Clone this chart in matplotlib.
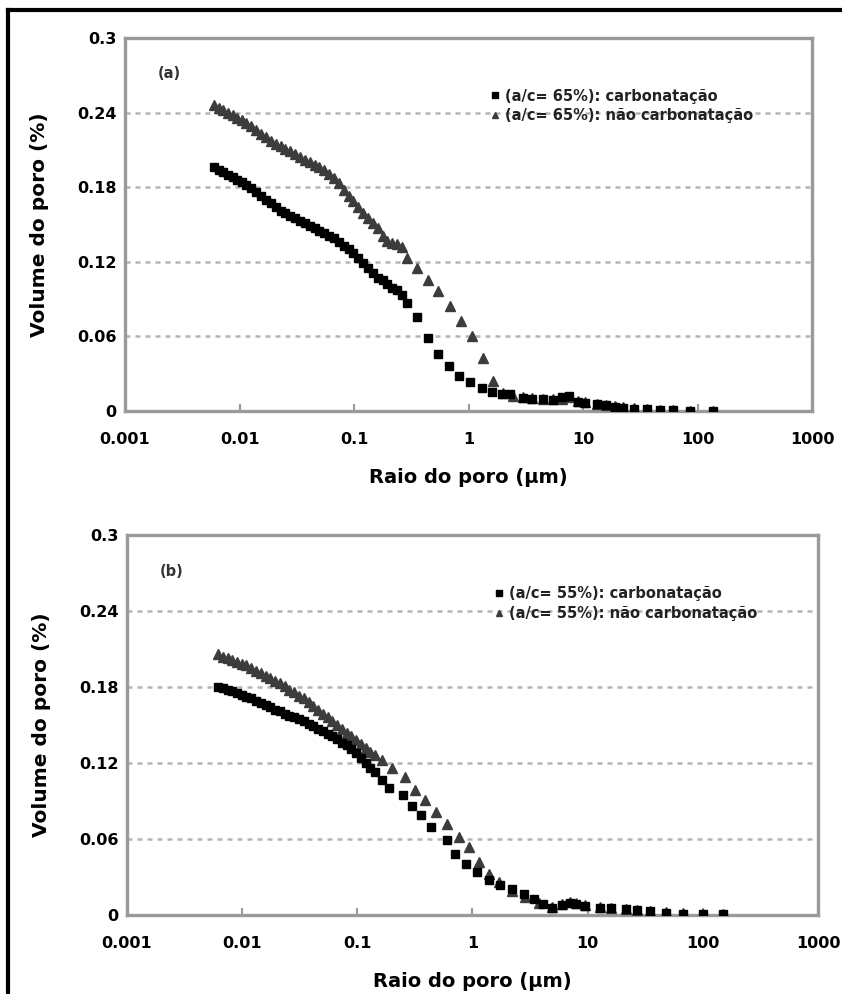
import matplotlib
matplotlib.use("Agg")
import matplotlib.pyplot as plt
from matplotlib.lines import Line2D

plt.rcParams["font.family"] = ["DejaVu Sans"]
plt.rcParams["font.weight"] = "bold"

# ---- panel (a): a/c = 65 % ----
a_carb_r = [0.0060, 0.0066, 0.0072, 0.0079, 0.0087, 0.0095, 0.0105, 0.0115, 0.0127, 0.0140,
            0.0155, 0.0170, 0.0188, 0.0207, 0.0228, 0.0252, 0.0278, 0.0306, 0.0338, 0.0372,
            0.0410, 0.0452, 0.0499, 0.0550, 0.0606, 0.0668, 0.0737, 0.0812, 0.0895, 0.0987,
            0.109, 0.120, 0.132, 0.146, 0.161, 0.178, 0.196, 0.216, 0.238, 0.262,
            0.290, 0.355, 0.445, 0.54, 0.676, 0.826, 1.03, 1.31, 1.60, 1.95,
            2.29, 2.99, 3.6, 4.47, 5.5, 6.5, 7.5, 9.0, 10.5, 13.2,
            16, 19, 22.3, 28, 36, 47, 61, 86, 136]
a_carb_v = [0.196, 0.194, 0.192, 0.190, 0.188, 0.186, 0.184, 0.182, 0.179, 0.176,
            0.173, 0.170, 0.167, 0.164, 0.161, 0.159, 0.157, 0.155, 0.153, 0.151,
            0.149, 0.147, 0.145, 0.143, 0.141, 0.139, 0.136, 0.133, 0.130, 0.127,
            0.123, 0.119, 0.115, 0.111, 0.107, 0.105, 0.102, 0.099, 0.097, 0.093,
            0.087, 0.0757, 0.059, 0.046, 0.036, 0.028, 0.023, 0.0185, 0.0153, 0.014,
            0.0135, 0.0105, 0.010, 0.0095, 0.009, 0.011, 0.012, 0.0075, 0.0068, 0.0056,
            0.0045, 0.0035, 0.0026, 0.002, 0.0016, 0.001, 0.0005, 0.0002, 0.0001]

a_ncarb_r = [0.0060, 0.0066, 0.0072, 0.0079, 0.0087, 0.0095, 0.0105, 0.0115, 0.0127, 0.0140,
             0.0155, 0.0170, 0.0188, 0.0207, 0.0228, 0.0252, 0.0278, 0.0306, 0.0338, 0.0372,
             0.0410, 0.0452, 0.0499, 0.0550, 0.0606, 0.0668, 0.0737, 0.0812, 0.0895, 0.0987,
             0.109, 0.120, 0.132, 0.146, 0.161, 0.178, 0.196, 0.216, 0.238, 0.262,
             0.290, 0.357, 0.445, 0.54, 0.69, 0.853, 1.07, 1.35, 1.62, 2.0,
             2.45, 3.0, 3.6, 4.5, 5.5, 6.5, 7.7, 9.0, 10.5, 13.2,
             16, 19, 22.3, 28, 36, 47, 61, 86, 136]
a_ncarb_v = [0.246, 0.244, 0.242, 0.240, 0.238, 0.236, 0.234, 0.232, 0.229, 0.226,
             0.223, 0.220, 0.217, 0.215, 0.213, 0.211, 0.209, 0.207, 0.204, 0.202,
             0.200, 0.198, 0.196, 0.194, 0.191, 0.187, 0.183, 0.178, 0.173, 0.169,
             0.164, 0.159, 0.155, 0.151, 0.147, 0.141, 0.137, 0.135, 0.134, 0.132,
             0.123, 0.115, 0.105, 0.0966, 0.0846, 0.0725, 0.0604, 0.043, 0.0242, 0.0148,
             0.012, 0.0112, 0.0105, 0.010, 0.0095, 0.010, 0.011, 0.008, 0.0072, 0.006,
             0.005, 0.004, 0.003, 0.0022, 0.0017, 0.0012, 0.0006, 0.0003, 0.0002]

# ---- panel (b): a/c = 55 % ----
b_carb_r = [0.0062, 0.0068, 0.0075, 0.0082, 0.0090, 0.0099, 0.0109, 0.0120, 0.0132, 0.0145,
            0.0160, 0.0176, 0.0193, 0.0213, 0.0234, 0.0257, 0.0283, 0.0311, 0.0343, 0.0377,
            0.0415, 0.0456, 0.0502, 0.0552, 0.0607, 0.0668, 0.0735, 0.0808, 0.0889, 0.0978,
            0.108, 0.118, 0.130, 0.142, 0.163, 0.19, 0.25, 0.30, 0.36, 0.44,
            0.60, 0.71, 0.87, 1.1, 1.38, 1.74, 2.21, 2.81, 3.4, 4.07,
            4.9, 6.0, 7.0, 7.9, 9.5, 12.7, 16, 21.5, 27, 35,
            48, 67, 100, 150]
b_carb_v = [0.180, 0.179, 0.178, 0.177, 0.175, 0.174, 0.172, 0.171, 0.169, 0.167,
            0.166, 0.164, 0.162, 0.161, 0.159, 0.157, 0.156, 0.155, 0.153, 0.151,
            0.149, 0.147, 0.145, 0.143, 0.141, 0.139, 0.136, 0.134, 0.131, 0.128,
            0.124, 0.120, 0.116, 0.113, 0.1065, 0.0999, 0.0946, 0.0859, 0.0787, 0.0694,
            0.0588, 0.0482, 0.0403, 0.0336, 0.0276, 0.0238, 0.0204, 0.0164, 0.0125, 0.0085,
            0.0058, 0.0075, 0.0095, 0.0087, 0.0072, 0.0058, 0.0052, 0.0048, 0.004, 0.0032,
            0.0018, 0.001, 0.0005, 0.0005]

b_ncarb_r = [0.0062, 0.0068, 0.0075, 0.0082, 0.0090, 0.0099, 0.0109, 0.0120, 0.0132, 0.0145,
             0.0160, 0.0176, 0.0193, 0.0213, 0.0234, 0.0257, 0.0283, 0.0311, 0.0343, 0.0377,
             0.0415, 0.0456, 0.0502, 0.0552, 0.0607, 0.0668, 0.0735, 0.0808, 0.0889, 0.0978,
             0.108, 0.118, 0.130, 0.142, 0.163, 0.20, 0.26, 0.32, 0.39, 0.48,
             0.60, 0.76, 0.93, 1.13, 1.38, 1.70, 2.2, 2.87, 3.8, 4.9,
             6.0, 7.0, 7.9, 9.5, 12.7, 16, 21.5, 27, 35, 48,
             67, 100, 150]
b_ncarb_v = [0.206, 0.204, 0.203, 0.201, 0.200, 0.198, 0.197, 0.195, 0.193, 0.191,
             0.189, 0.187, 0.185, 0.183, 0.181, 0.178, 0.176, 0.173, 0.171, 0.168,
             0.165, 0.162, 0.159, 0.156, 0.153, 0.150, 0.147, 0.144, 0.141, 0.138,
             0.135, 0.132, 0.129, 0.126, 0.1224, 0.1158, 0.109, 0.0986, 0.0906, 0.0813,
             0.0721, 0.0615, 0.0535, 0.0416, 0.0324, 0.0257, 0.019, 0.0138, 0.0098, 0.0062,
             0.0085, 0.0105, 0.0095, 0.0078, 0.0062, 0.0055, 0.005, 0.0042, 0.0034, 0.002,
             0.0012, 0.0006, 0.0005]

y_ticks = [0, 0.06, 0.12, 0.18, 0.24, 0.3]
y_ticklabels = ["0", "0.06", "0.12", "0.18", "0.24", "0.3"]
x_ticks = [0.001, 0.01, 0.1, 1, 10, 100, 1000]
x_ticklabels = ["0.001", "0.01", "0.1", "1", "10", "100", "1000"]

panels = [
    ("(a)", "65", a_carb_r, a_carb_v, a_ncarb_r, a_ncarb_v, [0.1485, 0.5865, 0.8159, 0.3753]),
    ("(b)", "55", b_carb_r, b_carb_v, b_ncarb_r, b_ncarb_v, [0.1508, 0.0795, 0.8207, 0.3823]),
]

fig = plt.figure(figsize=(8.42, 9.94), dpi=100)
spine_col = "#9a9a9a"

for tag, ac, cr, cv, nr, nv, rect in panels:
    ax = fig.add_axes(rect)
    ax.set_xscale("log")
    ax.set_xlim(0.001, 1000)
    ax.set_ylim(0, 0.3)

    for g in [0.06, 0.12, 0.18, 0.24]:
        ax.axhline(g, color="#b5b5b5", lw=1.8, ls=(0, (2, 2)), zorder=1)

    ax.plot(nr, nv, ls="none", marker="^", ms=7, color="#3c3c3c", mec="#3c3c3c",
            label=f"(a/c= {ac}%): não carbonatação", zorder=3)
    ax.plot(cr, cv, ls="none", marker="s", ms=6.2, color="black",
            label=f"(a/c= {ac}%): carbonatação", zorder=4)

    for s in ax.spines.values():
        s.set_color(spine_col)
        s.set_linewidth(2.4)

    ax.set_xticks(x_ticks)
    ax.set_xticklabels(x_ticklabels)
    ax.minorticks_off()
    ax.set_yticks(y_ticks)
    ax.set_yticklabels(y_ticklabels)
    ax.tick_params(axis="x", direction="in", length=5, width=1.5, color=spine_col,
                   pad=15, labelsize=11.5)
    ax.tick_params(axis="y", length=0, pad=6, labelsize=11.5)
    for lbl in ax.get_xticklabels() + ax.get_yticklabels():
        lbl.set_fontweight("bold")

    ax.set_xlabel("Raio do poro (µm)", fontsize=14, fontweight="bold", labelpad=15)
    ax.set_ylabel("Volume do poro (%)", fontsize=14.5, fontweight="bold", labelpad=20)

    ax.text(0.065, 0.905, tag, transform=ax.transAxes, fontsize=10.5, fontweight="bold",
            ha="center", va="center", color="#333333")

    h, l = ax.get_legend_handles_labels()
    ax.legend(h[::-1], l[::-1], loc="upper left", bbox_to_anchor=(0.525, 0.88),
              frameon=False, fontsize=10.5, handlelength=0.5, handletextpad=0.4,
              labelspacing=0.3, markerscale=0.7, borderaxespad=0,
              labelcolor="#222222")

# outer frame of the figure
fig.add_artist(Line2D([8 / 842, 1], [1 - 10 / 994] * 2, transform=fig.transFigure,
                      color="black", lw=3))
fig.add_artist(Line2D([8 / 842] * 2, [0, 1 - 10 / 994], transform=fig.transFigure,
                      color="black", lw=3))

fig.savefig("out.png", dpi=100)
